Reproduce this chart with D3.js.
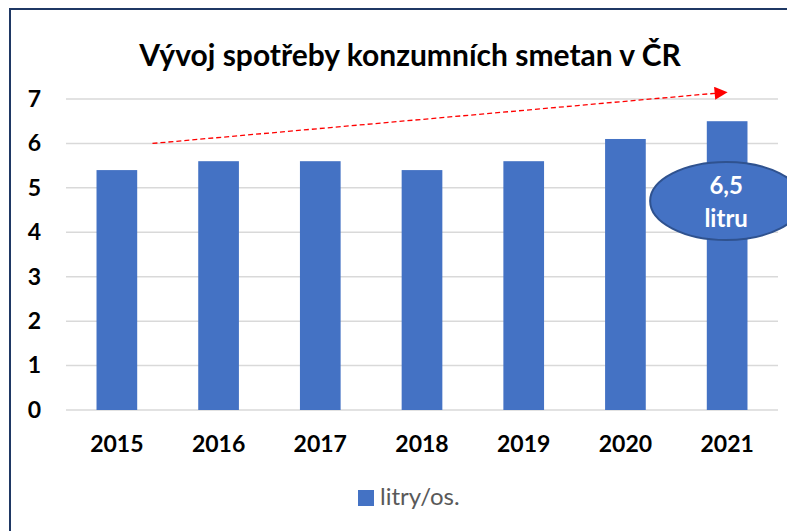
<!DOCTYPE html>
<html>
<head>
<meta charset="utf-8">
<script src="https://cdn.jsdelivr.net/npm/d3@7"></script>
<style>
  body { margin: 0; background: #fff; }
  svg { display: block; font-family: Lato, "Open Sans", sans-serif; }
</style>
</head>
<body>
<svg id="chart" width="787" height="531"></svg>
<script>
const years = ['2015', '2016', '2017', '2018', '2019', '2020', '2021'];
const litres = [5.4, 5.6, 5.6, 5.4, 5.6, 6.1, 6.5];
const yTicks = [0, 1, 2, 3, 4, 5, 6, 7];
const seriesName = 'litry/os.';
const title = 'Vývoj spotřeby konzumních smetan v ČR';
const calloutLines = ['6,5', 'litru'];
// trend arrow: [year, offset inside band, value]
const trendFrom = ['2015', 0.85, 6.0];
const trendTo = ['2021', 0.39, 7.13];

const BLUE = '#4472C4';
const svg = d3.select('#chart');

// chart frame (cropped on right/bottom in the reference)
svg.append('path')
  .attr('d', 'M10,531 V9 H787')
  .attr('fill', 'none')
  .attr('stroke', '#1F3864')
  .attr('stroke-width', 2);

const x = d3.scaleBand().domain(years).range([66, 778]);
const y = d3.scaleLinear().domain([0, 7]).range([410, 99]);

svg.append('text')
  .attr('x', 410)
  .attr('y', 66)
  .attr('text-anchor', 'middle')
  .attr('font-size', 30)
  .attr('font-weight', 'bold')
  .attr('fill', '#000')
  .text(title);

// gridlines
svg.append('g')
  .selectAll('line')
  .data(yTicks)
  .join('line')
  .attr('x1', 66)
  .attr('x2', 778)
  .attr('y1', d => y(d))
  .attr('y2', d => y(d))
  .attr('stroke', '#d9d9d9')
  .attr('stroke-width', 1.5);

// y axis labels
const yAxis = d3.axisLeft(y).tickValues(yTicks).tickFormat(d3.format('d')).tickSize(0).tickPadding(0);
svg.append('g')
  .attr('transform', 'translate(41,0)')
  .call(yAxis)
  .call(g => g.select('.domain').remove())
  .call(g => g.selectAll('text')
    .attr('font-family', 'Lato, sans-serif')
    .attr('font-size', 23)
    .attr('font-weight', 'bold')
    .attr('fill', '#000'));

// x axis labels
const xAxis = d3.axisBottom(x).tickSize(0).tickPadding(26);
svg.append('g')
  .attr('transform', `translate(0,${y(0)})`)
  .call(xAxis)
  .call(g => g.select('.domain').remove())
  .call(g => g.selectAll('text')
    .attr('font-family', 'Lato, sans-serif')
    .attr('font-size', 23)
    .attr('font-weight', 'bold')
    .attr('fill', '#000'));

// bars
const barW = x.bandwidth() * 0.4;
svg.append('g')
  .selectAll('rect')
  .data(years.map((yr, i) => ({ yr, v: litres[i] })))
  .join('rect')
  .attr('x', d => x(d.yr) + (x.bandwidth() - barW) / 2)
  .attr('y', d => y(d.v))
  .attr('width', barW)
  .attr('height', d => y(0) - y(d.v))
  .attr('fill', BLUE);

// trend arrow
svg.append('defs').append('marker')
  .attr('id', 'arrow')
  .attr('viewBox', '0 0 10 10')
  .attr('refX', 1)
  .attr('refY', 5)
  .attr('markerWidth', 15)
  .attr('markerHeight', 13)
  .attr('markerUnits', 'userSpaceOnUse')
  .attr('orient', 'auto')
  .append('path')
  .attr('d', 'M0,0 L10,5 L0,10 Z')
  .attr('fill', '#FF0000');

const tx = p => x(p[0]) + x.bandwidth() * p[1];
svg.append('line')
  .attr('x1', tx(trendFrom))
  .attr('y1', y(trendFrom[2]))
  .attr('x2', tx(trendTo))
  .attr('y2', y(trendTo[2]))
  .attr('stroke', '#FF0000')
  .attr('stroke-width', 1.3)
  .attr('stroke-dasharray', '5,3')
  .attr('marker-end', 'url(#arrow)');

// callout ellipse
const last = years.length - 1;
const cx = x(years[last]) + x.bandwidth() / 2 - 1;
svg.append('ellipse')
  .attr('cx', cx)
  .attr('cy', 201)
  .attr('rx', 76)
  .attr('ry', 39)
  .attr('fill', BLUE)
  .attr('stroke', '#2F528F')
  .attr('stroke-width', 2);

svg.append('g')
  .selectAll('text')
  .data(calloutLines)
  .join('text')
  .attr('x', cx)
  .attr('y', (d, i) => 194 + i * 33)
  .attr('text-anchor', 'middle')
  .attr('font-size', 24)
  .attr('font-weight', 'bold')
  .attr('fill', '#fff')
  .text(d => d);

// legend
svg.append('rect')
  .attr('x', 358)
  .attr('y', 490)
  .attr('width', 16)
  .attr('height', 16)
  .attr('fill', BLUE);
svg.append('text')
  .attr('x', 380)
  .attr('y', 505)
  .attr('font-size', 24)
  .attr('fill', '#595959')
  .text(seriesName);
</script>
</body>
</html>
